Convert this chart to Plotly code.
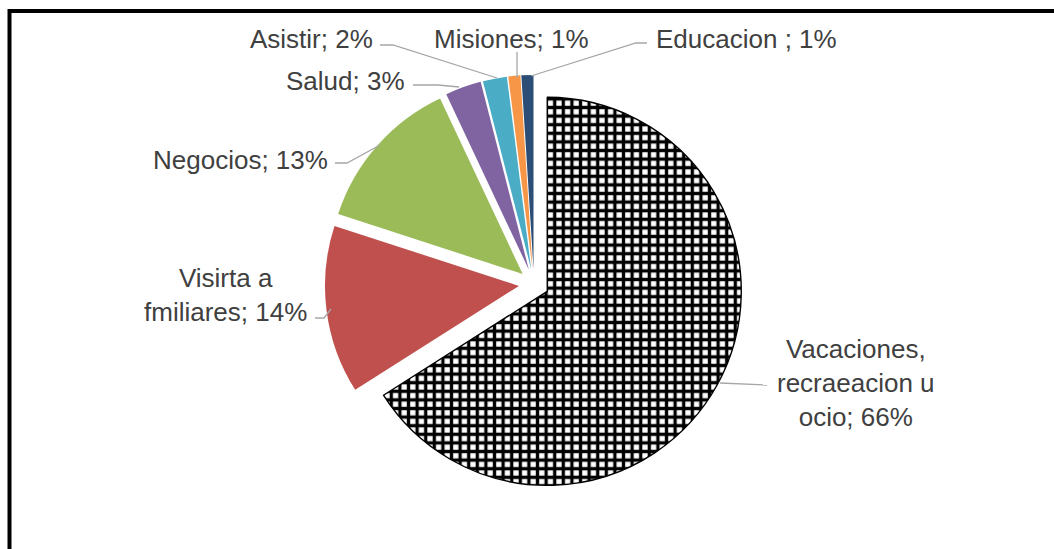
import plotly.graph_objects as go

# ---- data ----
categories = ["Vacaciones, recraeacion u ocio", "Visirta a fmiliares", "Negocios",
              "Salud", "Asistir", "Misiones", "Educacion "]
values = [66, 14, 13, 3, 2, 1, 1]
label_text = ["Vacaciones,<br>recraeacion u<br>ocio; 66%", "Visirta a<br>fmiliares; 14%",
              "Negocios; 13%", "Salud; 3%", "Asistir; 2%", "Misiones; 1%", "Educacion ; 1%"]
colors = ["#FFFFFF", "#C0504D", "#9BBB59", "#8064A2", "#4BACC6", "#F79646", "#2C4D75"]

W, H = 1054, 549
def px(x):
    return x / W
def py(y):
    return 1 - y / H

# pie geometry (pixels)
cx, cy, r, pull = 534, 284, 194, 0.078
half = r * (1 + pull)

fig = go.Figure(go.Pie(
    labels=categories,
    values=values,
    sort=False,
    direction="clockwise",
    rotation=0,
    pull=[pull] * len(values),
    textinfo="none",
    hoverinfo="label+percent",
    marker=dict(
        colors=colors,
        line=dict(color=["#000000"] + ["rgba(0,0,0,0)"] * 6,
                  width=[1.4] + [0] * 6),
        pattern=dict(shape=["+"] + [""] * 6, fgcolor="#000000", bgcolor="#FFFFFF",
                     fgopacity=1, size=8.6, solidity=0.62, fillmode="overlay"),
    ),
    domain=dict(x=[px(cx - 300), px(cx + 300)], y=[py(cy + half), py(cy - half)]),
    showlegend=False,
))

# label positions (pixels, text centres)
label_pos = [(856, 383), (225, 295), (240, 160), (345, 81), (311, 39), (511, 39), (746, 39)]
annotations = []
for txt, (x, y) in zip(label_text, label_pos):
    annotations.append(dict(
        text=txt, x=px(x), y=py(y), xref="paper", yref="paper",
        xanchor="center", yanchor="middle", showarrow=False, align="center",
        font=dict(family="Liberation Sans, Arial, sans-serif", size=26, color="#404040"),
    ))

# leader lines
leaders = [
    [(720, 383), (767, 385)],
    [(315, 318), (324, 318), (331, 309)],
    [(335, 163), (347, 163), (380, 145)],
    [(413, 85), (438, 85), (459, 87)],
    [(380, 45), (393, 45), (497, 78)],
    [(517, 52), (517, 78)],
    [(647, 43), (636, 43), (531, 76)],
]
shapes = []
for pts in leaders:
    path = "M " + " L ".join(f"{px(x)},{py(y)}" for x, y in pts)
    shapes.append(dict(type="path", path=path, xref="paper", yref="paper",
                       line=dict(color="#A6A6A6", width=1.3)))

# chart frame
shapes.append(dict(type="rect", xref="paper", yref="paper",
                   x0=px(9.5), x1=px(1070), y0=py(11), y1=py(570),
                   line=dict(color="#000000", width=4), fillcolor="rgba(0,0,0,0)"))

fig.update_layout(
    width=W, height=H,
    margin=dict(l=0, r=0, t=0, b=0),
    paper_bgcolor="#FFFFFF",
    plot_bgcolor="#FFFFFF",
    annotations=annotations,
    shapes=shapes,
)

fig.write_html("out.html")
